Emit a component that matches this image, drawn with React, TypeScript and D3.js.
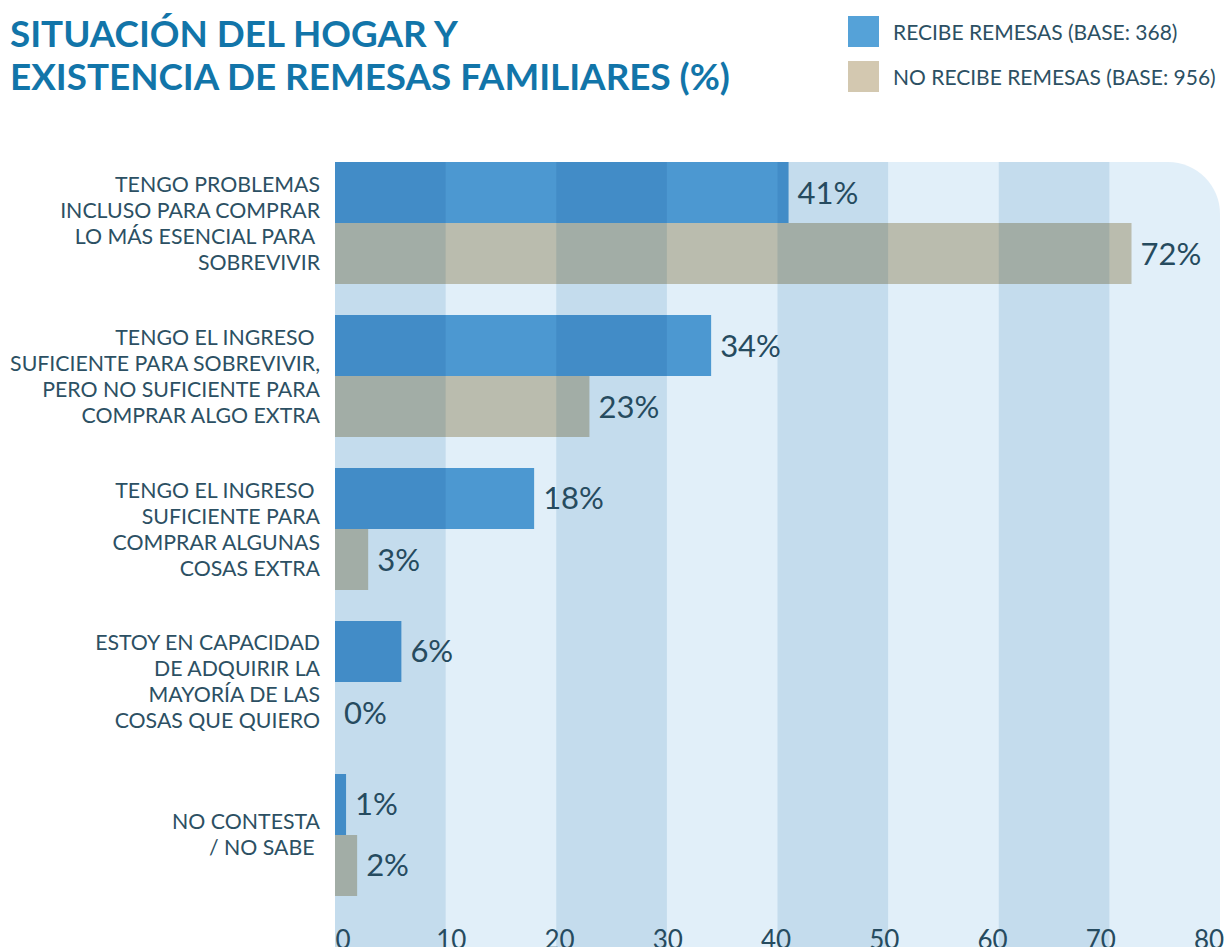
import React from "react";
import * as d3 from "d3";

const categories = [
  ["TENGO PROBLEMAS", "INCLUSO PARA COMPRAR", "LO MÁS ESENCIAL PARA ", "SOBREVIVIR"],
  ["TENGO EL INGRESO ", "SUFICIENTE PARA SOBREVIVIR,", "PERO NO SUFICIENTE PARA", "COMPRAR ALGO EXTRA"],
  ["TENGO EL INGRESO ", "SUFICIENTE PARA", "COMPRAR ALGUNAS", "COSAS EXTRA"],
  ["ESTOY EN CAPACIDAD", "DE ADQUIRIR LA", "MAYORÍA DE LAS", "COSAS QUE QUIERO"],
  ["NO CONTESTA", "/ NO SABE "],
];
const seriesNames = ["RECIBE REMESAS (BASE: 368)", "NO RECIBE REMESAS (BASE: 956)"];
const recibe = [41, 34, 18, 6, 1];
const noRecibe = [72, 23, 3, 0, 2];
const ticks = [0, 10, 20, 30, 40, 50, 60, 70, 80];
const titleLines = ["SITUACIÓN DEL HOGAR Y", "EXISTENCIA DE REMESAS FAMILIARES (%)"];

const W = 1228;
const H = 947;
const plotL = 335;
const plotR = 1220;
const plotT = 162;
const plotB = 1010;
const cornerR = 52;

const barColors = ["#4c98d1", "#babcae"];
const legendColors = ["#55a2d8", "#d3c8b0"];
const lightBand = "#e1eff9";
const bandMultiply = "#deebf3";
const textColor = "#2c5063";
const valueColor = "#264b5f";
const titleColor = "#1275a9";
const font = "Lato, 'Noto Sans', sans-serif";

export default function App() {
  const x = d3.scaleLinear().domain([0, 80]).range([plotL, plotR]);
  const tickX = d3.scaleLinear().domain([0, 80]).range([343, 1209]);
  const idx = categories.map((_, i) => String(i));
  const y = d3.scaleBand().domain(idx).range([plotT, 896]).paddingInner(0.2026).paddingOuter(0);
  const ySub = d3.scaleBand().domain(["0", "1"]).range([0, y.bandwidth()]);
  const series = [recibe, noRecibe];

  const clipPath = `M${plotL},${plotT} H${plotR - cornerR} A${cornerR},${cornerR} 0 0 1 ${plotR},${plotT + cornerR} V${plotB} H${plotL} Z`;

  const bands = d3.range(0, 80, 10);

  return (
    <svg
      width={W}
      height={H}
      style={{ position: "absolute", left: 0, top: 0, overflow: "hidden", background: "#fff" }}
      fontFamily={font}
    >
      <defs>
        <clipPath id="plotClip">
          <path d={clipPath} />
        </clipPath>
      </defs>
      <rect x={0} y={0} width={W} height={H} fill="#fff" />

      {/* title */}
      {titleLines.map((t, i) => (
        <text key={i} x={10} y={47 + i * 43} fill={titleColor} fontSize={36.8} fontWeight={700}>
          {t}
        </text>
      ))}

      {/* legend */}
      {seriesNames.map((s, i) => (
        <g key={i}>
          <rect x={848} y={16 + i * 45} width={31} height={31} fill={legendColors[i]} />
          <text x={893} y={40 + i * 45} fill={textColor} fontSize={21}>
            {s}
          </text>
        </g>
      ))}

      <g clipPath="url(#plotClip)" style={{ isolation: "isolate" }}>
        <rect x={plotL} y={plotT} width={plotR - plotL} height={plotB - plotT} fill={lightBand} />
        {series.map((vals, s) =>
          vals.map((v, i) => (
            <rect
              key={`b${s}-${i}`}
              x={x(0)}
              y={(y(String(i)) as number) + (ySub(String(s)) as number)}
              width={x(v) - x(0)}
              height={ySub.bandwidth()}
              fill={barColors[s]}
            />
          ))
        )}
        {bands.map((b, i) =>
          i % 2 === 0 ? (
            <rect
              key={`band${b}`}
              x={x(b)}
              y={plotT}
              width={x(b + 10) - x(b)}
              height={plotB - plotT}
              fill={bandMultiply}
              style={{ mixBlendMode: "multiply" }}
            />
          ) : null
        )}
      </g>

      {/* value labels */}
      {series.map((vals, s) =>
        vals.map((v, i) => (
          <text
            key={`v${s}-${i}`}
            x={x(v) + 9}
            y={(y(String(i)) as number) + (ySub(String(s)) as number) + ySub.bandwidth() / 2 + 11}
            fill={valueColor}
            fontSize={31}
          >
            {`${v}%`}
          </text>
        ))
      )}

      {/* category labels */}
      {categories.map((lines, i) => {
        const cy = (y(String(i)) as number) + y.bandwidth() / 2;
        const n = lines.length;
        return (
          <text key={`c${i}`} textAnchor="end" fill={textColor} fontSize={21.3} style={{ whiteSpace: "pre" }}>
            {lines.map((l, j) => (
              <tspan key={j} x={320} y={cy + (j - (n - 1) / 2) * 26 + 7.5}>
                {l}
              </tspan>
            ))}
          </text>
        );
      })}

      {/* ticks */}
      {ticks.map((t) => (
        <text key={`t${t}`} x={tickX(t)} y={949} textAnchor="middle" fill={valueColor} fontSize={26}>
          {t}
        </text>
      ))}
    </svg>
  );
}
